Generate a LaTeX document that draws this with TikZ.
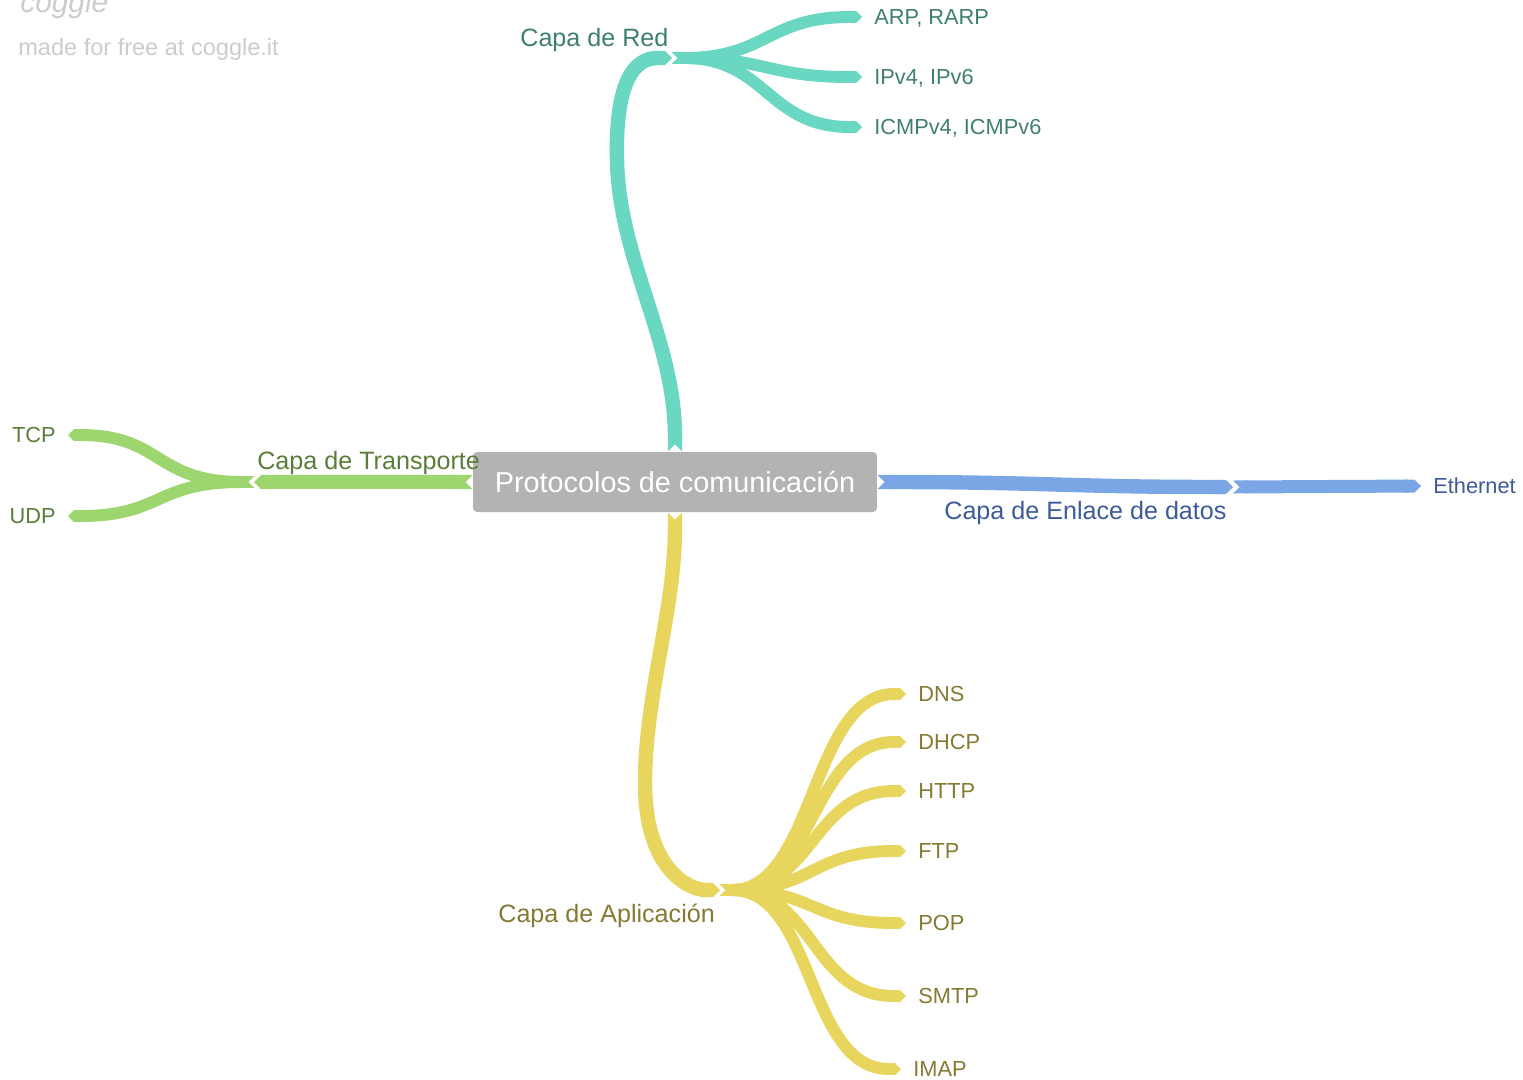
\documentclass[tikz,border=0pt]{standalone}
\usepackage{fontspec}
\setmainfont{Liberation Sans}
\usetikzlibrary{arrows.meta}
\definecolor{redline}{HTML}{6AD7C2}
\definecolor{redtext}{HTML}{3E8070}
\definecolor{transpline}{HTML}{9DD66F}
\definecolor{transptext}{HTML}{5A7D37}
\definecolor{enlaceline}{HTML}{7BA6E6}
\definecolor{enlacetext}{HTML}{3D5B9A}
\definecolor{aplicline}{HTML}{E8D55E}
\definecolor{aplictext}{HTML}{857A32}
\definecolor{hubfill}{HTML}{B3B3B3}
\definecolor{watermark}{HTML}{CCCCCC}

\begin{document}
\begin{tikzpicture}[
    x=0.02cm, y=-0.02cm,
    ribbon/.style={line width=#1, {Triangle Cap[reversed]}-{Triangle Cap}},
    ribbon/.default=6.8pt,
    hub/.style={fill=hubfill, text=white, rounded corners=0.08cm, minimum width=8.08cm, minimum height=1.2cm, font=\fontsize{16.4}{19}\selectfont},
    capa/.style={inner sep=0pt, anchor=base west, font=\fontsize{14.3}{17}\selectfont},
    leaf/.style={inner xsep=0.24cm, inner ysep=0pt, text height=8.9pt, text depth=0pt, font=\fontsize{12.4}{15}\selectfont},
    ]
    \useasboundingbox (0,0) rectangle (1523,1079);

    % marca de agua
    \node at(20,12) [anchor=base west, inner sep=0pt, text=watermark, font=\itshape\fontsize{17}{20}\selectfont](logo){coggle};
    \node at(18,55) [anchor=base west, inner sep=0pt, text=watermark, font=\fontsize{13.4}{16}\selectfont](madefor){made for free at coggle.it};

    \node at(675,482) [hub](hub){Protocolos de comunicación};

    % Capa de Red
    \coordinate (red) at (672,58);
    \node at(520,46) [capa, text=redtext](redlbl){Capa de Red};
    \draw[ribbon=8.2pt, redline] (hub.north) .. controls (675,340) and (619,260) .. (617,160) .. controls (615,80) and (635,58) .. (red);
    \node at(862,17) [leaf, anchor=west, text=redtext](arp){ARP, RARP};
    \node at(862,77) [leaf, anchor=west, text=redtext](ipv){IPv4, IPv6};
    \node at(862,127) [leaf, anchor=west, text=redtext](icmp){ICMPv4, ICMPv6};
    \foreach \leafname in {arp,ipv,icmp}
        \draw[ribbon, redline] (red) .. controls +(95,0) and +(-95,0) .. (\leafname.west);

    % Capa de Transporte
    \coordinate (transp) at (254,482);
    \node at(257,469) [capa, text=transptext](transplbl){Capa de Transporte};
    \draw[ribbon=8.2pt, transpline] (hub.west) -- (transp);
    \node at(68,435) [leaf, anchor=east, text=transptext](tcp){TCP};
    \node at(68,516) [leaf, anchor=east, text=transptext](udp){UDP};
    \draw[ribbon, transpline] (transp) .. controls +(-100,0) and +(95,0) .. (tcp.east);
    \draw[ribbon, transpline] (transp) .. controls +(-100,0) and +(95,0) .. (udp.east);

    % Capa de Enlace de datos
    \coordinate (enlace) at (1233,487);
    \node at(944,519) [capa, text=enlacetext](enlacelbl){Capa de Enlace de datos};
    \draw[ribbon=8.2pt, enlaceline] (hub.east) .. controls +(160,0) and +(-160,0) .. (enlace);
    \node at(1421,486) [leaf, anchor=west, text=enlacetext](eth){Ethernet};
    \draw[ribbon=7.4pt, enlaceline] (enlace) -- (eth.west);

    % Capa de Aplicacion
    \coordinate (aplic) at (720,890);
    \node at(498,922) [capa, text=aplictext](apliclbl){Capa de Aplicación};
    \draw[ribbon=8.2pt, aplicline] (hub.south) .. controls (675,610) and (646,690) .. (645,780) .. controls (644,870) and (690,890) .. (aplic);
    \foreach \x/\y/\leafname/\leaftext in {906/694/dns/DNS, 906/742/dhcp/DHCP, 906/791/http/HTTP, 906/851/ftp/FTP, 906/923/pop/POP, 906/996/smtp/SMTP, 901/1069/imap/IMAP}{
        \node at(\x,\y) [leaf, anchor=west, text=aplictext](\leafname){\leaftext};
        \draw[ribbon, aplicline] (aplic) .. controls +(95,0) and +(-95,0) .. (\leafname.west);
    }
\end{tikzpicture}
\end{document}
